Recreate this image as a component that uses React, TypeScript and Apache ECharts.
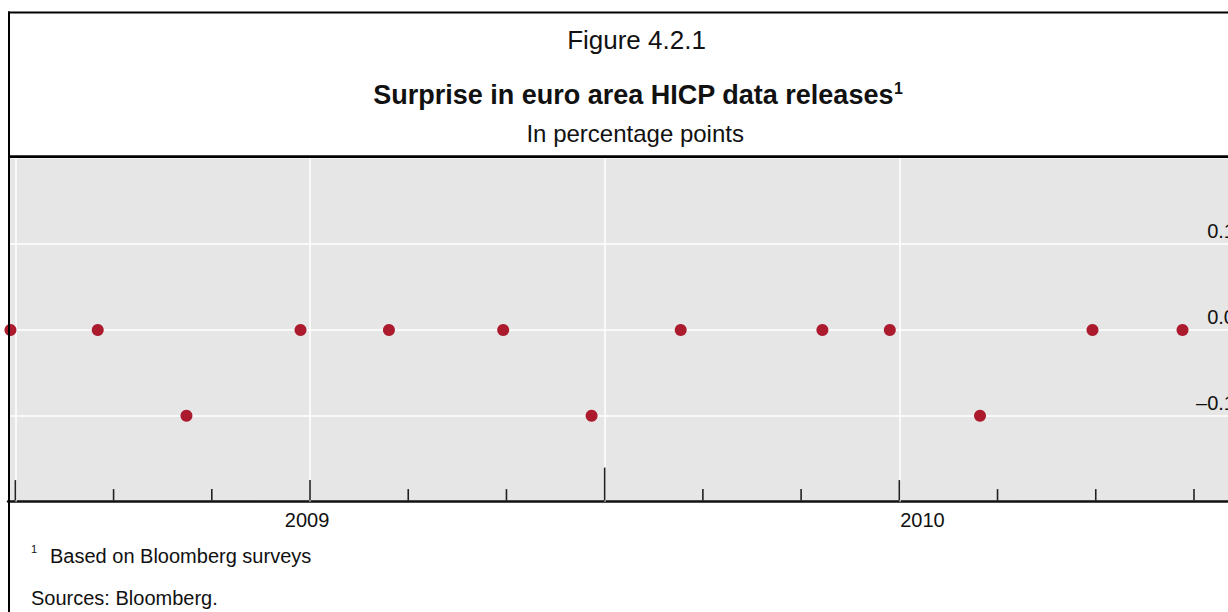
import { useEffect, useRef } from 'react';
import * as echarts from 'echarts';

// Release dates of euro area HICP data and the surprise (percentage points)
const releaseDates = [
  '2008-06-28', '2008-08-22', '2008-10-16', '2008-12-26', '2009-02-18',
  '2009-04-29', '2009-06-23', '2009-08-18', '2009-11-14', '2009-12-26',
  '2010-02-19', '2010-04-29', '2010-06-24',
];
const surprise = [0.0, 0.0, -0.1, 0.0, 0.0, 0.0, -0.1, 0.0, 0.0, 0.0, -0.1, 0.0, 0.0];

// x axis expressed in months since January 2008
const yearLabels = ['2009', '2010'];
const yearLabelMonths = [11.94, 24.47];
const gridLineMonths = [6, 12, 18, 24];
const minorTickMonths = [8, 10, 14, 16, 20, 22, 26, 28, 30];
const longTickMonths = [6, 12, 24];
const tallTickMonths = [18];

const FONT = '"Liberation Sans", Arial, Helvetica, sans-serif';
const INK = '#111111';
const CHART_W = 1260;

function monthIndex(d: string): number {
  const [y, m, day] = d.split('-').map(Number);
  const dim = new Date(y, m, 0).getDate();
  return (y - 2008) * 12 + (m - 1) + (day - 1) / dim;
}

function fmtY(v: number): string {
  if (Math.abs(v) < 1e-9) return '0.0';
  return (v < 0 ? '\u2013' : '') + Math.abs(v).toFixed(1);
}

function tickSeries(months: number[], len: number) {
  return {
    type: 'custom',
    silent: true,
    z: 10,
    data: months.map((m) => [m, -0.2]),
    renderItem: (_params: any, api: any) => {
      const p = api.coord([api.value(0), api.value(1)]);
      return {
        type: 'line',
        shape: { x1: p[0], y1: p[1] - 1, x2: p[0], y2: p[1] - len },
        style: { stroke: '#222222', lineWidth: 1.6 },
      };
    },
  };
}

function txt(text: string, x: number, y: number, fontSize: number, align: string, bold = false) {
  return {
    type: 'text',
    x,
    y,
    z: 100,
    silent: true,
    style: {
      text,
      fontSize,
      fontFamily: FONT,
      fontWeight: bold ? 'bold' : 'normal',
      fill: INK,
      align,
      textAlign: align,
      verticalAlign: 'middle',
      textVerticalAlign: 'middle',
    },
  };
}

export default function App() {
  const ref = useRef<HTMLDivElement>(null);

  useEffect(() => {
    if (!ref.current) return;
    const chart = echarts.init(ref.current, undefined, { renderer: 'svg' });
    const option: any = {
      animation: false,
      backgroundColor: '#ffffff',
      grid: {
        left: 8,
        right: CHART_W - 1248,
        top: 158.4,
        bottom: 110.4,
        show: true,
        backgroundColor: '#e6e6e6',
        borderWidth: 0,
        containLabel: false,
      },
      xAxis: {
        type: 'value',
        min: 5.85,
        max: 31.1,
        axisLine: { show: true, onZero: false, lineStyle: { color: '#111111', width: 2.5 } },
        axisTick: { show: false },
        axisLabel: { show: false },
        splitLine: { show: false },
      },
      yAxis: {
        type: 'value',
        position: 'right',
        min: -0.2,
        max: 0.2,
        interval: 0.1,
        axisLine: { show: false },
        axisTick: { show: false },
        splitLine: {
          show: true,
          showMinLine: false,
          showMaxLine: false,
          lineStyle: { color: '#ffffff', width: 1.5 },
        },
        axisLabel: {
          inside: true,
          margin: 13,
          align: 'right',
          verticalAlign: 'bottom',
          padding: [0, 0, 3, 0],
          fontSize: 20,
          color: INK,
          fontFamily: FONT,
          showMinLabel: false,
          showMaxLabel: false,
          formatter: fmtY,
        },
      },
      series: [
        {
          type: 'scatter',
          data: releaseDates.map((d, i) => [monthIndex(d), surprise[i]]),
          symbol: 'circle',
          symbolSize: 12,
          itemStyle: { color: '#AB1A2D', opacity: 1 },
          z: 5,
          silent: true,
          markLine: {
            silent: true,
            symbol: ['none', 'none'],
            label: { show: false },
            lineStyle: { color: '#ffffff', width: 1.5, type: 'solid', opacity: 1 },
            data: gridLineMonths.map((m) => ({ xAxis: m })),
          },
        },
        tickSeries(minorTickMonths, 12.5),
        tickSeries(longTickMonths, 21.5),
        tickSeries(tallTickMonths, 34),
        {
          type: 'custom',
          silent: true,
          data: yearLabelMonths.map((m) => [m, -0.2]),
          renderItem: (params: any, api: any) => {
            const p = api.coord([api.value(0), api.value(1)]);
            return {
              type: 'text',
              x: p[0],
              y: p[1] + 18.2,
              style: {
                text: yearLabels[params.dataIndex],
                fontSize: 20,
                fontFamily: FONT,
                fill: INK,
                align: 'center',
                textAlign: 'center',
                verticalAlign: 'middle',
                textVerticalAlign: 'middle',
              },
            };
          },
        },
      ],
      graphic: [
        { type: 'line', z: 100, silent: true, shape: { x1: 8, y1: 12.5, x2: 1400, y2: 12.5 }, style: { stroke: '#000000', lineWidth: 2 } },
        { type: 'line', z: 100, silent: true, shape: { x1: 9, y1: 11.5, x2: 9, y2: 700 }, style: { stroke: '#000000', lineWidth: 2 } },
        { type: 'line', z: 100, silent: true, shape: { x1: 8, y1: 156.7, x2: 1400, y2: 156.7 }, style: { stroke: '#000000', lineWidth: 2.7 } },
        txt('Figure 4.2.1', 636.5, 39.5, 26, 'center'),
        txt('Surprise in euro area HICP data releases', 633.3, 95, 27, 'center', true),
        txt('1', 894, 88.5, 16, 'left', true),
        txt('In percentage points', 635.2, 133.5, 24, 'center'),
        txt('1', 31, 549.2, 11, 'left'),
        txt('Based on Bloomberg surveys', 50, 556.4, 20, 'left'),
        txt('Sources: Bloomberg.', 31, 598, 20, 'left'),
      ],
    };
    chart.setOption(option);
    return () => chart.dispose();
  }, []);

  return (
    <div
      ref={ref}
      style={{ position: 'fixed', left: 0, top: 0, width: CHART_W, height: 612, background: '#ffffff' }}
    />
  );
}
